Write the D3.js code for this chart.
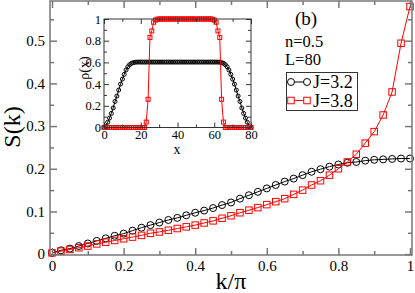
<!DOCTYPE html>
<html>
<head>
<meta charset="utf-8">
<script src="https://cdn.jsdelivr.net/npm/d3@7"></script>
<style>
  body { margin: 0; background: #fff; }
  svg { display: block; }
  svg text { font-family: "Liberation Serif", "DejaVu Serif", serif; }
</style>
</head>
<body>
<svg width="415" height="293"></svg>
<script>
// main panel: S(k) vs k/pi
const kOverPi = [0, 0.025, 0.05, 0.075, 0.1, 0.125, 0.15, 0.175, 0.2, 0.225,
  0.25, 0.275, 0.3, 0.325, 0.35, 0.375, 0.4, 0.425, 0.45, 0.475,
  0.5, 0.525, 0.55, 0.575, 0.6, 0.625, 0.65, 0.675, 0.7, 0.725,
  0.75, 0.775, 0.8, 0.825, 0.85, 0.875, 0.9, 0.925, 0.95, 0.975, 1];
const sJ32 = [0.003, 0.009, 0.013, 0.019, 0.025, 0.031, 0.037, 0.043, 0.048, 0.055,
  0.062, 0.068, 0.074, 0.080, 0.085, 0.091, 0.097, 0.102, 0.108, 0.115,
  0.121, 0.130, 0.138, 0.146, 0.154, 0.162, 0.170, 0.177, 0.185, 0.193,
  0.199, 0.205, 0.210, 0.214, 0.216, 0.219, 0.221, 0.222, 0.223, 0.224, 0.224];
const sJ38 = [0.003, 0.007, 0.011, 0.015, 0.019, 0.024, 0.028, 0.032, 0.036, 0.040,
  0.044, 0.049, 0.052, 0.056, 0.060, 0.064, 0.068, 0.073, 0.078, 0.084,
  0.090, 0.097, 0.103, 0.109, 0.116, 0.123, 0.130, 0.140, 0.150, 0.162,
  0.172, 0.185, 0.200, 0.216, 0.234, 0.260, 0.287, 0.326, 0.380, 0.494, 0.580];

// inset: rho(x) vs x
const sites = [0, 1, 2, 3, 4, 5, 6, 7, 8, 9, 10, 11, 12, 13, 14, 15, 16, 17, 18, 19,
  20, 21, 22, 23, 24, 25, 26, 27, 28, 29, 30, 31, 32, 33, 34, 35, 36, 37, 38, 39,
  40, 41, 42, 43, 44, 45, 46, 47, 48, 49, 50, 51, 52, 53, 54, 55, 56, 57, 58, 59,
  60, 61, 62, 63, 64, 65, 66, 67, 68, 69, 70, 71, 72, 73, 74, 75, 76, 77, 78, 79, 80];
const rhoJ32 = [0, 0.007, 0.048, 0.087, 0.13, 0.18, 0.24, 0.29, 0.345, 0.40,
  0.446, 0.49, 0.53, 0.56, 0.58, 0.592, 0.598, 0.601, 0.603, 0.603,
  0.603, 0.603, 0.603, 0.603, 0.603, 0.603, 0.603, 0.603, 0.603, 0.603,
  0.603, 0.603, 0.603, 0.603, 0.603, 0.603, 0.603, 0.603, 0.603, 0.603,
  0.603, 0.603, 0.603, 0.603, 0.603, 0.603, 0.603, 0.603, 0.603, 0.603,
  0.603, 0.603, 0.603, 0.603, 0.603, 0.603, 0.603, 0.603, 0.603, 0.603,
  0.603, 0.603, 0.603, 0.601, 0.598, 0.592, 0.58, 0.56, 0.53, 0.49,
  0.446, 0.40, 0.345, 0.29, 0.24, 0.18, 0.13, 0.087, 0.048, 0.007, 0];
const rhoJ38 = [0, 0, 0, 0, 0, 0, 0, 0, 0, 0,
  0, 0, 0, 0, 0, 0, 0, 0, 0, 0,
  0, 0, 0, 0.05, 0.26, 0.83, 0.89, 0.97, 0.99, 0.998,
  1, 1, 1, 1, 1, 1, 1, 1, 1, 1,
  1, 1, 1, 1, 1, 1, 1, 1, 1, 1,
  1, 1, 1, 1, 1, 1, 1, 1, 1, 0.998,
  0.99, 0.97, 0.89, 0.83, 0.26, 0.05, 0, 0, 0, 0,
  0, 0, 0, 0, 0, 0, 0, 0, 0, 0, 0];

const xMajor = [0, 0.2, 0.4, 0.6, 0.8, 1];
const xMinor = [0.1, 0.3, 0.5, 0.7, 0.9];
const yMajor = [0, 0.1, 0.2, 0.3, 0.4, 0.5];
const yMinor = [0.05, 0.15, 0.25, 0.35, 0.45, 0.55];
const insetXMajor = [0, 20, 40, 60, 80];
const insetXMinor = [10, 30, 50, 70];
const insetYMajor = [0, 0.2, 0.4, 0.6, 0.8, 1];
const insetYMinor = [0.1, 0.3, 0.5, 0.7, 0.9];
const legendLabels = ["J=3.2", "J=3.8"];
const notes = ["n=0.5", "L=80"];

const serif = "Liberation Serif, DejaVu Serif, serif";
const fmt = d => d3.format("~g")(d);
const svg = d3.select("svg");

const x = d3.scaleLinear().domain([-0.0056, 1.0056]).range([50, 412]);
const y = d3.scaleLinear().domain([-0.002, 0.593]).range([255, 1]);

const xi = d3.scaleLinear().domain([0, 80]).range([104, 251]);
const yi = d3.scaleLinear().domain([0, 1]).range([127.5, 19]);

// draws inward ticks on all four sides of a frame
function frameAxes(g, xs, ys, xMaj, xMin, yMaj, yMin, opt) {
  const [x0, x1] = xs.range();
  const [y0, y1] = ys.range();
  const sides = [
    [d3.axisBottom, xs, xMaj, xMin, `translate(0,${y0})`, true],
    [d3.axisTop, xs, xMaj, xMin, `translate(0,${y1})`, false],
    [d3.axisLeft, ys, yMaj, yMin, `translate(${x0},0)`, true],
    [d3.axisRight, ys, yMaj, yMin, `translate(${x1},0)`, false]
  ];
  sides.forEach(([axis, sc, maj, min, tr, labels]) => {
    g.append("g")
      .attr("transform", tr)
      .call(axis(sc).tickValues(min).tickSize(-opt.minor).tickFormat(""))
      .call(a => a.select(".domain").remove())
      .call(a => a.selectAll("text").remove());
    const ax = g.append("g")
      .attr("transform", tr)
      .call(axis(sc).tickValues(maj).tickSize(-opt.major).tickPadding(opt.pad)
        .tickFormat(labels ? fmt : ""))
      .call(a => a.select(".domain").remove())
      .attr("font-family", serif)
      .attr("font-size", opt.font);
    if (!labels) ax.selectAll("text").remove();
  });
  g.selectAll(".tick line").attr("stroke", opt.color).attr("stroke-width", opt.width);
  g.selectAll(".tick text").attr("fill", "#000").attr("font-family", serif);
  g.append("rect")
    .attr("x", x0).attr("y", y1)
    .attr("width", x1 - x0).attr("height", y0 - y1)
    .attr("fill", "none")
    .attr("stroke", opt.color)
    .attr("stroke-width", opt.width);
}

function drawSeries(g, xs, ys, xv, yv, color, shape, size) {
  const pts = xv.map((d, i) => [xs(d), ys(yv[i])]);
  g.append("path")
    .attr("d", d3.line()(pts))
    .attr("fill", "none")
    .attr("stroke", color)
    .attr("stroke-width", 1);
  if (shape === "circle") {
    g.selectAll(null).data(pts).join("circle")
      .attr("cx", d => d[0]).attr("cy", d => d[1])
      .attr("r", size / 2)
      .attr("fill", "none").attr("stroke", color).attr("stroke-width", 1);
  } else {
    g.selectAll(null).data(pts).join("rect")
      .attr("x", d => d[0] - size / 2).attr("y", d => d[1] - size / 2)
      .attr("width", size).attr("height", size)
      .attr("fill", "none").attr("stroke", color).attr("stroke-width", 1);
  }
}

// main plot
const main = svg.append("g");
drawSeries(main, x, y, kOverPi, sJ32, "#000", "circle", 7);
drawSeries(main, x, y, kOverPi, sJ38, "#ff0000", "square", 6.5);
frameAxes(main, x, y, xMajor, xMinor, yMajor, yMinor,
  { major: 7, minor: 4, pad: 5, font: 15, color: "#777", width: 1.5 });

svg.append("text")
  .attr("transform", "translate(20,127) rotate(-90)")
  .attr("text-anchor", "middle")
  .attr("font-family", serif)
  .attr("font-size", 24)
  .text("S(k)");
svg.append("text")
  .attr("x", 231).attr("y", 289)
  .attr("text-anchor", "middle")
  .attr("font-family", serif)
  .attr("font-size", 24)
  .text("k/π");

// inset
const inset = svg.append("g");
inset.append("rect")
  .attr("x", 104).attr("y", 19).attr("width", 147).attr("height", 108.5)
  .attr("fill", "#fff");
drawSeries(inset, xi, yi, sites, rhoJ32, "#000", "circle", 4);
drawSeries(inset, xi, yi, sites, rhoJ38, "#ff0000", "square", 4);
frameAxes(inset, xi, yi, insetXMajor, insetXMinor, insetYMajor, insetYMinor,
  { major: 5, minor: 3, pad: 3, font: 12.5, color: "#333", width: 1 });

svg.append("text")
  .attr("transform", "translate(89,68) rotate(-90)")
  .attr("text-anchor", "middle")
  .attr("font-family", serif)
  .attr("font-size", 14)
  .text("ρ(x)");
svg.append("text")
  .attr("x", 177).attr("y", 154)
  .attr("text-anchor", "middle")
  .attr("font-family", serif)
  .attr("font-size", 14)
  .text("x");

// annotations
svg.append("text")
  .attr("x", 295).attr("y", 25)
  .attr("font-family", serif)
  .attr("font-size", 19)
  .text("(b)");
svg.append("text")
  .attr("font-family", serif)
  .attr("font-size", 16.5)
  .selectAll("tspan").data(notes).join("tspan")
  .attr("x", 285).attr("y", (d, i) => 47 + i * 18)
  .text(d => d);

// legend
const legend = svg.append("g");
legend.append("rect")
  .attr("x", 286.5).attr("y", 72.5).attr("width", 71).attr("height", 38)
  .attr("fill", "#fff").attr("stroke", "#333").attr("stroke-width", 1);
const legendStyles = [["#000", "circle"], ["#ff0000", "square"]];
legendLabels.forEach((lab, i) => {
  const ly = 82 + i * 18.5;
  const [c, shape] = legendStyles[i];
  legend.append("line")
    .attr("x1", 291).attr("x2", 307).attr("y1", ly).attr("y2", ly)
    .attr("stroke", c);
  [291, 307].forEach(px => {
    if (shape === "circle") {
      legend.append("circle").attr("cx", px).attr("cy", ly).attr("r", 3.5)
        .attr("fill", "#fff").attr("stroke", c);
    } else {
      legend.append("rect").attr("x", px - 3.25).attr("y", ly - 3.25)
        .attr("width", 6.5).attr("height", 6.5)
        .attr("fill", "#fff").attr("stroke", c);
    }
  });
  legend.append("text")
    .attr("x", 313).attr("y", ly + 6)
    .attr("font-family", serif)
    .attr("font-size", 18)
    .text(lab);
});
</script>
</body>
</html>
